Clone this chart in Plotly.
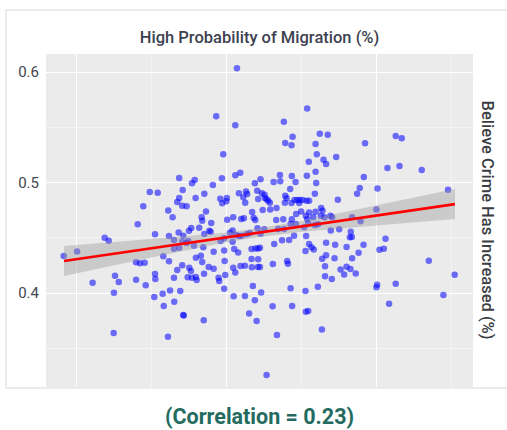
import plotly.graph_objects as go

# Scatter data: x = high probability of migration, y = believe crime has increased
x_vals = [
    0.0918, 0.1007, 0.1190, 0.1217, 0.1110, 0.1259, 0.1284, 0.1252, 0.1250, 0.1399,
    0.1399, 0.1425, 0.1456, 0.1463, 0.1410, 0.1447, 0.1490, 0.1543, 0.1525, 0.1525,
    0.1527, 0.1520, 0.1576, 0.1583, 0.1611, 0.1580, 0.1618, 0.1618, 0.1613, 0.1642,
    0.1625,
    0.2070, 0.1932, 0.2059, 0.1979, 0.2059, 0.2092, 0.1970, 0.1910, 0.1789, 0.1771,
    0.1686, 0.1709, 0.1686, 0.1673, 0.1706, 0.1735, 0.1795, 0.1853, 0.1864, 0.1835,
    0.1839, 0.1899, 0.1959, 0.2003, 0.1972, 0.1999, 0.2083, 0.2112, 0.2130, 0.2138,
    0.2125, 0.2189, 0.2227, 0.2205, 0.2236, 0.2211, 0.2171, 0.2241, 0.2045, 0.2098,
    0.2116, 0.2181, 0.2192, 0.2005,
    0.1682, 0.1713, 0.1751, 0.1766, 0.1819, 0.1853, 0.1886, 0.1895, 0.1651, 0.1706,
    0.1735, 0.1686, 0.1651, 0.1784, 0.1846, 0.1746, 0.1797, 0.1830, 0.1839, 0.1915,
    0.1961, 0.1985, 0.2023, 0.2041, 0.2063, 0.2083, 0.2101, 0.2134, 0.2156, 0.2207,
    0.2227, 0.2041, 0.2052, 0.2078, 0.1985, 0.1988, 0.2167, 0.2194, 0.2211, 0.2223,
    0.2167, 0.2211, 0.2169, 0.2209, 0.2223, 0.2094, 0.2123, 0.2045, 0.2059, 0.1992,
    0.1948, 0.1952, 0.1915, 0.1882, 0.1851, 0.1753, 0.1764, 0.1706, 0.1673, 0.1742,
    0.1771, 0.1797, 0.1802, 0.1651, 0.1693, 0.1653, 0.1713, 0.1716, 0.1849, 0.1985,
    0.2048, 0.2123, 0.2176, 0.2189, 0.2231, 0.2151, 0.2201,
    0.2537, 0.2382, 0.2440, 0.2391, 0.2433, 0.2621, 0.2674, 0.2593, 0.2601, 0.2548,
    0.2646, 0.2663, 0.2730, 0.2593, 0.2535, 0.2597, 0.2356, 0.2435, 0.2314, 0.2358,
    0.2460, 0.2424, 0.2254, 0.2256, 0.2267, 0.2278, 0.2289, 0.2291, 0.2333, 0.2391,
    0.2400, 0.2389, 0.2433, 0.2453, 0.2471, 0.2488, 0.2506, 0.2484, 0.2533, 0.2550,
    0.2588, 0.2741, 0.2630, 0.2639, 0.2593, 0.2550, 0.2497, 0.2464, 0.2528, 0.2537,
    0.2577, 0.2628, 0.2652, 0.2692, 0.2703, 0.2435, 0.2378, 0.2331,
    0.2252, 0.2344, 0.2384, 0.2427, 0.2462, 0.2517, 0.2544, 0.2588, 0.2610, 0.2694,
    0.2750, 0.2827, 0.2834, 0.2821, 0.2450, 0.2417, 0.2370, 0.2318, 0.2530, 0.2550,
    0.2566, 0.2581, 0.2526, 0.2663, 0.2723, 0.2799, 0.2663, 0.2637, 0.2719, 0.2836,
    0.2404, 0.2409, 0.2309, 0.2656, 0.2759, 0.2799, 0.2825, 0.2783, 0.2656, 0.2701,
    0.2608, 0.2526, 0.2427, 0.2307, 0.2437, 0.2528, 0.2544, 0.2635, 0.2336, 0.2267,
    0.2922, 0.3126, 0.3166, 0.3071, 0.3151, 0.3299, 0.2914, 0.2887, 0.2869, 0.3005,
    0.3474, 0.2998, 0.2836, 0.2892, 0.2912, 0.2879, 0.3058, 0.3018, 0.3047, 0.3346,
    0.2860, 0.3518, 0.3002, 0.2998, 0.3126, 0.3443, 0.3082,
]
y_vals = [
    0.4335, 0.4377, 0.4500, 0.4473, 0.4093, 0.4157, 0.4100, 0.4003, 0.3638, 0.4120,
    0.4278, 0.4269, 0.4274, 0.4070, 0.4622, 0.4785, 0.4914, 0.4908, 0.4531, 0.4172,
    0.4127, 0.3964, 0.3994, 0.3882, 0.3605, 0.4332, 0.4287, 0.4516, 0.4748, 0.4685,
    0.4024,
    0.6033, 0.5600, 0.5518, 0.5255, 0.5065, 0.5089, 0.5038, 0.4977, 0.5023, 0.4993,
    0.5041, 0.4932, 0.4860, 0.4824, 0.4790, 0.4785, 0.4860, 0.4899, 0.4739, 0.4685,
    0.4654, 0.4633, 0.4853, 0.4860, 0.4812, 0.4830, 0.4902, 0.4866, 0.4920, 0.4896,
    0.4817, 0.4993, 0.5029, 0.4926, 0.4902, 0.4851, 0.4733, 0.4751, 0.4685, 0.4670,
    0.4676, 0.4681, 0.4661, 0.4663,
    0.4549, 0.4519, 0.4564, 0.4588, 0.4591, 0.4534, 0.4564, 0.4555, 0.4480, 0.4464,
    0.4452, 0.4410, 0.4401, 0.4428, 0.4414, 0.4471, 0.4319, 0.4338, 0.4281, 0.4374,
    0.4471, 0.4495, 0.4546, 0.4567, 0.4525, 0.4516, 0.4519, 0.4531, 0.4543, 0.4586,
    0.4537, 0.4464, 0.4398, 0.4368, 0.4386, 0.4290, 0.4398, 0.4404, 0.4404, 0.4410,
    0.4308, 0.4305, 0.4233, 0.4235, 0.4235, 0.4244, 0.4247, 0.4229, 0.4187, 0.4163,
    0.4138, 0.4109, 0.4220, 0.4235, 0.4175, 0.4229, 0.4199, 0.4251, 0.4208, 0.4142,
    0.4139, 0.4145, 0.4118, 0.4139, 0.4018, 0.3921, 0.3801, 0.3798, 0.3753, 0.4039,
    0.3970, 0.3973, 0.4063, 0.3934, 0.4006, 0.3816, 0.3747,
    0.5671, 0.5550, 0.5414, 0.5357, 0.5337, 0.5442, 0.5433, 0.5348, 0.5255, 0.5188,
    0.5206, 0.5167, 0.5231, 0.5098, 0.5062, 0.4995, 0.5068, 0.5059, 0.5005, 0.5011,
    0.5005, 0.4941, 0.4890, 0.4860, 0.4848, 0.4835, 0.4817, 0.4757, 0.4769, 0.4881,
    0.4857, 0.4817, 0.4814, 0.4842, 0.4842, 0.4842, 0.4842, 0.4814, 0.4835, 0.4835,
    0.4899, 0.4844, 0.4769, 0.4745, 0.4736, 0.4730, 0.4739, 0.4715, 0.4700, 0.4670,
    0.4685, 0.4700, 0.4685, 0.4700, 0.4685, 0.4667, 0.4667, 0.4661,
    0.4577, 0.4579, 0.4579, 0.4624, 0.4624, 0.4595, 0.4631, 0.4615, 0.4622, 0.4567,
    0.4577, 0.4555, 0.4507, 0.4504, 0.4519, 0.4480, 0.4477, 0.4443, 0.4516, 0.4443,
    0.4414, 0.4395, 0.4380, 0.4455, 0.4437, 0.4416, 0.4341, 0.4310, 0.4314, 0.4314,
    0.4290, 0.4265, 0.4262, 0.4242, 0.4214, 0.4238, 0.4217, 0.4169, 0.4151, 0.4127,
    0.4057, 0.4018, 0.4043, 0.3880, 0.3882, 0.3831, 0.3837, 0.3671, 0.3620, 0.3258,
    0.5355, 0.5421, 0.5400, 0.5131, 0.5149, 0.5113, 0.5050, 0.4950, 0.4899, 0.4947,
    0.4935, 0.4757, 0.4685, 0.4649, 0.4437, 0.4365, 0.4491, 0.4392, 0.4401, 0.4292,
    0.4178, 0.4166, 0.4075, 0.4052, 0.4084, 0.3982, 0.3903,
]

# Linear fit and its confidence band
fit_x = [0.092, 0.15, 0.20, 0.22, 0.25, 0.30, 0.352]
fit_y = [0.4290, 0.4405, 0.4504, 0.4543, 0.4603, 0.4702, 0.4805]
ci_lo = [0.4154, 0.4322, 0.4459, 0.4503, 0.4555, 0.4614, 0.4669]
ci_hi = [0.4426, 0.4488, 0.4549, 0.4583, 0.4651, 0.4790, 0.4941]

y_ticks = [0.4, 0.5, 0.6]
y_tick_text = ["0.4", "0.5", "0.6"]

title_text = "High Probability of Migration (%)"
y_title_text = "Believe Crime Has Increased (%)"
corr_text = "(Correlation = 0.23)"

fig = go.Figure()
fig.add_trace(go.Scatter(
    x=x_vals, y=y_vals, mode="markers",
    marker=dict(color="rgba(0,0,255,0.55)", size=6.5, line=dict(width=0)),
    hoverinfo="skip", showlegend=False,
))
fig.add_trace(go.Scatter(
    x=fit_x, y=ci_hi, mode="lines", line=dict(width=0),
    hoverinfo="skip", showlegend=False,
))
fig.add_trace(go.Scatter(
    x=fit_x, y=ci_lo, mode="lines", line=dict(width=0),
    fill="tonexty", fillcolor="rgba(153,153,153,0.4)",
    hoverinfo="skip", showlegend=False,
))
fig.add_trace(go.Scatter(
    x=fit_x, y=fit_y, mode="lines", line=dict(color="#ff0000", width=2.6),
    hoverinfo="skip", showlegend=False,
))

fig.update_layout(
    width=507, height=430,
    margin=dict(l=46, r=34, t=54, b=43),
    paper_bgcolor="white",
    plot_bgcolor="#EBEBEB",
    font=dict(family="Roboto", color="#3d4250"),
    title=dict(
        text=title_text, x=0.5119, xanchor="center", y=1 - 37 / 430, yanchor="middle",
        font=dict(size=16.5, color="#3d4250", weight=500),
    ),
    xaxis=dict(
        range=[0.080, 0.364], showticklabels=False, ticks="",
        tick0=0.1, dtick=0.1, showgrid=True, gridcolor="white", gridwidth=1.3,
        minor=dict(tick0=0.05, dtick=0.1, showgrid=True, gridcolor="#f4f4f4", gridwidth=0.6),
        zeroline=False, showline=False, fixedrange=True,
    ),
    yaxis=dict(
        range=[0.315, 0.6163], tickvals=y_ticks, ticktext=y_tick_text, ticks="",
        tickfont=dict(size=15, color="#44474f"), ticklabelstandoff=6,
        showgrid=True, gridcolor="white", gridwidth=1.3,
        minor=dict(tickvals=[0.35, 0.45, 0.55], showgrid=True, gridcolor="#f4f4f4", gridwidth=0.6),
        zeroline=False, showline=False, fixedrange=True,
    ),
    shapes=[dict(
        type="rect", xref="paper", yref="paper",
        x0=-0.0937, x1=1.1, y0=-0.003, y1=1.132,
        line=dict(color="#dcd9d2", width=1), fillcolor="rgba(0,0,0,0)", layer="below",
    )],
    annotations=[
        dict(
            text=y_title_text, xref="paper", yref="paper", x=1.035, y=0.5,
            xanchor="center", yanchor="middle", textangle=90, showarrow=False,
            font=dict(size=16.5, color="#3b3d44", weight=500),
        ),
        dict(
            text=corr_text, xref="paper", yref="paper", x=0.5, y=(387 - 416) / 333,
            xanchor="center", yanchor="middle", showarrow=False,
            font=dict(size=21.5, color="#246b5f", weight=700),
        ),
    ],
)

fig.write_html(
    "out.html",
    config={"displayModeBar": False},
    post_script="document.body.style.margin='0';document.body.style.overflow='hidden';",
)
